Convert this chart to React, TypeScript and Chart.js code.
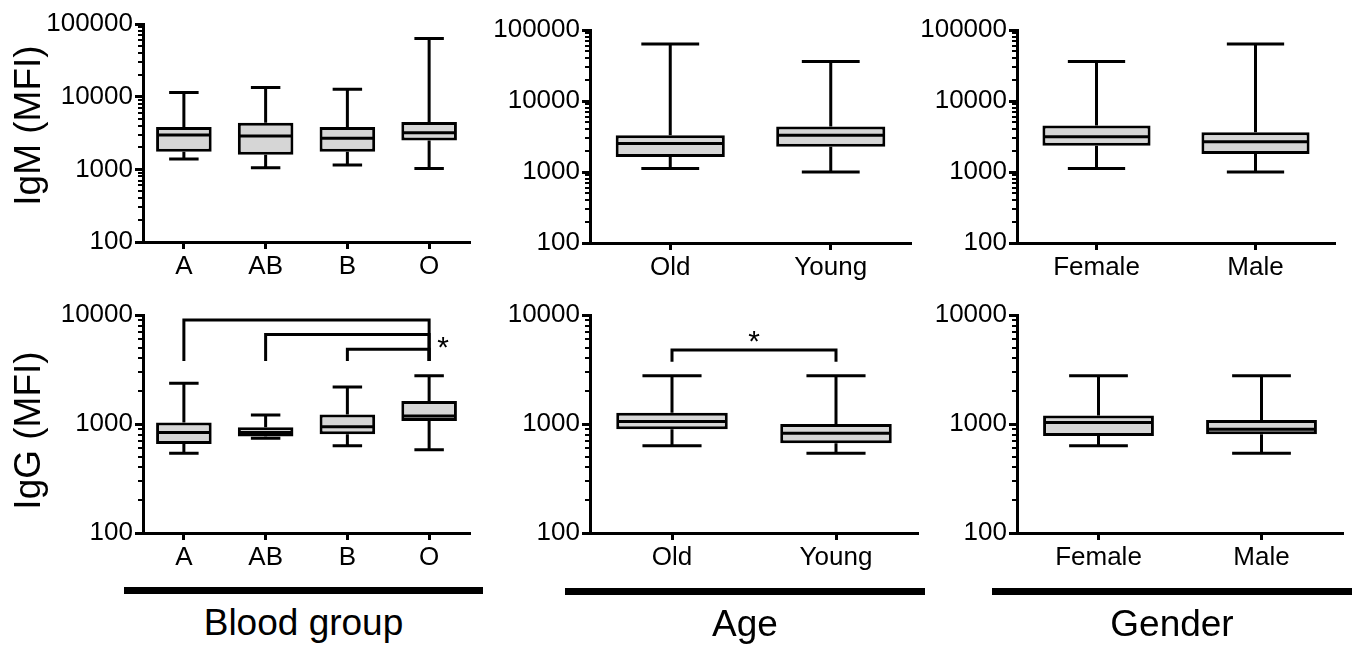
import React, { useEffect, useRef } from 'react';
import { Chart, registerables } from 'chart.js';

Chart.register(...registerables);

const FONT = "'Liberation Sans', Arial, Helvetica, sans-serif";

// Categories
const bloodGroups = ['A', 'AB', 'B', 'O'];
const ageGroups = ['Old', 'Young'];
const genderGroups = ['Female', 'Male'];

// Box statistics per category: [min, q1, median, q3, max]
const igmBlood = [
  [1390, 1745, 2960, 3820, 11450],
  [1050, 1590, 2870, 4380, 13400],
  [1150, 1745, 2670, 3820, 12600],
  [1030, 2500, 3190, 4480, 63400],
];
const igmAge = [
  [1120, 1630, 2520, 3300, 63500],
  [1000, 2260, 3300, 4390, 36100],
];
const igmGender = [
  [1120, 2340, 3130, 4530, 36100],
  [1000, 1800, 2660, 3640, 63500],
];
const iggBlood = [
  [540, 657, 834, 1030, 2360],
  [741, 767, 834, 935, 1210],
  [630, 806, 946, 1220, 2190],
  [579, 1067, 1186, 1628, 2770],
];
const iggAge = [
  [630, 896, 1052, 1271, 2770],
  [540, 667, 824, 1002, 2770],
];
const iggGender = [
  [630, 778, 1030, 1194, 2770],
  [540, 806, 896, 1091, 2770],
];

// Y tick labels (decades)
const igmTicks = [100, 1000, 10000, 100000];
const iggTicks = [100, 1000, 10000];

// Significance brackets: [fromIndex, toIndex, level]
const iggBloodBrackets = [
  [0, 3, 9000],
  [1, 3, 6640],
  [2, 3, 4840],
];
const iggBloodLegBottom = 3780;
const iggBloodStarLevel = 5890;
const iggAgeBrackets = [[0, 1, 4770]];
const iggAgeLegBottom = 3720;
const iggAgeStarLevel = 6700;

type Rect = { L: number; R: number; T: number; B: number };

type PanelProps = {
  rect: Rect;
  labels: string[];
  stats: number[][];
  ticks: number[];
  brackets?: number[][];
  legBottom?: number;
  starLevel?: number;
  starMode?: 'right' | 'middle';
};

const PAD_L = 112;
const PAD_T = 22;
const PAD_R = 12;
const PAD_B = 48;
const STAR_SIZE = 30;

function Panel({ rect, labels, stats, ticks, brackets, legBottom, starLevel, starMode }: PanelProps) {
  const ref = useRef<HTMLCanvasElement | null>(null);
  const left = rect.L - PAD_L;
  const top = rect.T - PAD_T;
  const width = rect.R - left + PAD_R;
  const height = rect.B - top + PAD_B;

  useEffect(() => {
    if (!ref.current) return;
    const boxPlugin = {
      id: 'boxWhiskers',
      beforeDatasetsDraw(chart: any) {
        const ctx = chart.ctx;
        const y = chart.scales.y;
        const meta = chart.getDatasetMeta(0);
        ctx.save();
        ctx.strokeStyle = '#000';
        ctx.lineWidth = 3;
        ctx.lineCap = 'butt';
        meta.data.forEach((el: any, i: number) => {
          const { x, width: w } = el.getProps(['x', 'width'], true);
          const s = stats[i];
          const cap = w * 0.53;
          const yMin = y.getPixelForValue(s[0]);
          const yQ1 = y.getPixelForValue(s[1]);
          const yQ3 = y.getPixelForValue(s[3]);
          const yMax = y.getPixelForValue(s[4]);
          ctx.beginPath();
          ctx.moveTo(x, yQ3);
          ctx.lineTo(x, yMax);
          ctx.moveTo(x - cap / 2, yMax);
          ctx.lineTo(x + cap / 2, yMax);
          ctx.moveTo(x, yQ1);
          ctx.lineTo(x, yMin);
          ctx.moveTo(x - cap / 2, yMin);
          ctx.lineTo(x + cap / 2, yMin);
          ctx.stroke();
        });
        ctx.restore();
      },
      afterDatasetsDraw(chart: any) {
        const ctx = chart.ctx;
        const y = chart.scales.y;
        const xs = chart.scales.x;
        const meta = chart.getDatasetMeta(0);
        ctx.save();
        ctx.strokeStyle = '#000';
        ctx.lineWidth = 3;
        meta.data.forEach((el: any, i: number) => {
          const { x, width: w } = el.getProps(['x', 'width'], true);
          const ym = y.getPixelForValue(stats[i][2]);
          ctx.beginPath();
          ctx.moveTo(x - w / 2 + 1, ym);
          ctx.lineTo(x + w / 2 - 1, ym);
          ctx.stroke();
        });
        // minor ticks on log axis
        ctx.lineWidth = 2;
        const area = chart.chartArea;
        for (let d = ticks[0]; d < ticks[ticks.length - 1]; d *= 10) {
          for (let m = 2; m <= 9; m++) {
            const py = Math.round(y.getPixelForValue(m * d));
            ctx.beginPath();
            ctx.moveTo(area.left - 5, py);
            ctx.lineTo(area.left, py);
            ctx.stroke();
          }
        }
        // significance brackets
        if (brackets && legBottom) {
          ctx.lineWidth = 3;
          ctx.lineJoin = 'miter';
          brackets.forEach((b) => {
            const x1 = xs.getPixelForValue(b[0]);
            const x2 = xs.getPixelForValue(b[1]);
            const yl = y.getPixelForValue(b[2]);
            const yb = y.getPixelForValue(legBottom);
            ctx.beginPath();
            ctx.moveTo(x1, yb);
            ctx.lineTo(x1, yl);
            ctx.lineTo(x2, yl);
            ctx.lineTo(x2, yb);
            ctx.stroke();
          });
          if (starLevel) {
            const last = brackets[0];
            let sx: number;
            if (starMode === 'right') {
              sx = xs.getPixelForValue(last[1]) + 14;
            } else {
              sx = (xs.getPixelForValue(last[0]) + xs.getPixelForValue(last[1])) / 2;
            }
            const sy = y.getPixelForValue(starLevel);
            ctx.fillStyle = '#000';
            ctx.font = `${STAR_SIZE}px ${FONT}`;
            ctx.textAlign = 'center';
            ctx.textBaseline = 'alphabetic';
            ctx.fillText('*', sx, sy + 0.58 * STAR_SIZE);
          }
        }
        ctx.restore();
      },
    };

    const chart = new Chart(ref.current, {
      type: 'bar',
      data: {
        labels,
        datasets: [
          {
            data: stats.map((s) => [s[1], s[3]]) as any,
            backgroundColor: '#d6d6d6',
            borderColor: '#000',
            borderWidth: 3,
            borderSkipped: false,
            barPercentage: 0.68,
            categoryPercentage: 1,
          },
        ],
      },
      options: {
        responsive: false,
        maintainAspectRatio: false,
        animation: false,
        devicePixelRatio: 1,
        layout: { padding: { left: 0, top: PAD_T, right: PAD_R, bottom: 0 } },
        plugins: { legend: { display: false }, tooltip: { enabled: false } },
        scales: {
          x: {
            type: 'category',
            offset: true,
            grid: {
              offset: false,
              drawOnChartArea: false,
              drawTicks: true,
              tickLength: 7,
              tickWidth: 3,
              color: '#000',
            },
            border: { display: true, width: 3, color: '#000' },
            ticks: { font: { family: FONT, size: 26 }, color: '#000', padding: 2, maxRotation: 0, autoSkip: false },
            afterFit: (s: any) => {
              s.height = PAD_B;
            },
          },
          y: {
            type: 'logarithmic',
            min: ticks[0],
            max: ticks[ticks.length - 1],
            grid: {
              drawOnChartArea: false,
              drawTicks: true,
              tickLength: 8,
              tickWidth: 3,
              color: '#000',
            },
            border: { display: true, width: 3, color: '#000' },
            ticks: {
              font: { family: FONT, size: 26 },
              color: '#000',
              padding: 2,
              callback: (v: any) => String(v),
            },
            afterBuildTicks: (s: any) => {
              s.ticks = ticks.map((v) => ({ value: v }));
            },
            afterFit: (s: any) => {
              s.width = PAD_L;
            },
          },
        },
      },
      plugins: [boxPlugin],
    } as any);
    return () => chart.destroy();
  }, []);

  return (
    <canvas
      ref={ref}
      width={width}
      height={height}
      style={{ position: 'absolute', left, top, width, height }}
    />
  );
}

const textStyle: React.CSSProperties = {
  position: 'absolute',
  fontFamily: FONT,
  fontSize: 37,
  color: '#000',
  lineHeight: '37px',
  whiteSpace: 'nowrap',
  textAlign: 'center',
};

function YTitle({ text, cx, cy }: { text: string; cx: number; cy: number }) {
  return (
    <div
      style={{
        ...textStyle,
        width: 300,
        height: 37,
        left: cx - 150,
        top: cy - 18.5,
        transform: 'rotate(-90deg)',
        transformOrigin: '50% 50%',
      }}
    >
      {text}
    </div>
  );
}

function Group({ text, x1, x2, y }: { text: string; x1: number; x2: number; y: number }) {
  return (
    <>
      <div style={{ position: 'absolute', left: x1, top: y - 3, width: x2 - x1, height: 7, background: '#000' }} />
      <div style={{ ...textStyle, left: x1, width: x2 - x1, top: y + 14 }}>{text}</div>
    </>
  );
}

export default function App() {
  return (
    <div style={{ position: 'absolute', left: 0, top: 0, width: 1358, height: 645, background: '#fff', overflow: 'hidden' }}>
      <Panel rect={{ L: 143, R: 470, T: 24, B: 242 }} labels={bloodGroups} stats={igmBlood} ticks={igmTicks} />
      <Panel rect={{ L: 590, R: 911, T: 30, B: 243 }} labels={ageGroups} stats={igmAge} ticks={igmTicks} />
      <Panel rect={{ L: 1017, R: 1335, T: 30, B: 243 }} labels={genderGroups} stats={igmGender} ticks={igmTicks} />
      <Panel
        rect={{ L: 143, R: 470, T: 315, B: 533 }}
        labels={bloodGroups}
        stats={iggBlood}
        ticks={iggTicks}
        brackets={iggBloodBrackets}
        legBottom={iggBloodLegBottom}
        starLevel={iggBloodStarLevel}
        starMode="right"
      />
      <Panel
        rect={{ L: 590, R: 918, T: 315, B: 533 }}
        labels={ageGroups}
        stats={iggAge}
        ticks={iggTicks}
        brackets={iggAgeBrackets}
        legBottom={iggAgeLegBottom}
        starLevel={iggAgeStarLevel}
        starMode="middle"
      />
      <Panel rect={{ L: 1017, R: 1343, T: 315, B: 533 }} labels={genderGroups} stats={iggGender} ticks={iggTicks} />
      <YTitle text="IgM (MFI)" cx={27} cy={125} />
      <YTitle text="IgG (MFI)" cx={27} cy={430} />
      <Group text="Blood group" x1={124} x2={483} y={590} />
      <Group text="Age" x1={565} x2={925} y={591} />
      <Group text="Gender" x1={992} x2={1352} y={591} />
    </div>
  );
}
